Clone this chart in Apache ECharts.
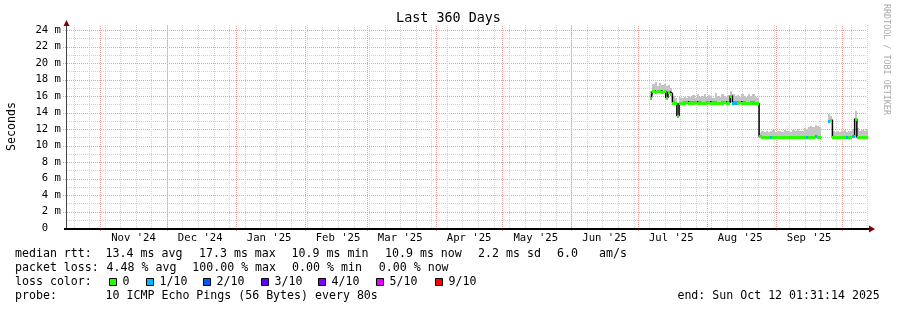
<!DOCTYPE html>
<html><head><meta charset="utf-8">
<script src="https://cdn.jsdelivr.net/npm/echarts@6/dist/echarts.min.js"></script>
<style>html,body{margin:0;padding:0;background:#fff;}#c{width:897px;height:310px;}</style>
</head><body><div id="c"></div>
<script>
// ---------- data ----------
const DAY = 86400000;
const START = Date.UTC(2024, 9, 17, 1, 31, 14);
const END = Date.UTC(2025, 9, 12, 1, 31, 14);
const FIRST_SAMPLE = '2025-07-07';           // daily samples start here
const FIRST_SUNDAY = '2024-10-20';           // weekly minor grid

const monthStarts = ['2024-11-01','2024-12-01','2025-01-01','2025-02-01','2025-03-01','2025-04-01',
  '2025-05-01','2025-06-01','2025-07-01','2025-08-01','2025-09-01','2025-10-01'];
const monthLabelDates = ['2024-11-16','2024-12-16','2025-01-16','2025-02-16','2025-03-16','2025-04-16',
  '2025-05-16','2025-06-16','2025-07-16','2025-08-16','2025-09-16'];
const monthLabels = ["Nov '24","Dec '24","Jan '25","Feb '25","Mar '25","Apr '25","May '25","Jun '25","Jul '25","Aug '25","Sep '25"];

const yTickValues = [0,2,4,6,8,10,12,14,16,18,20,22,24];

// median rtt (ms), one per day
const medianMs = [
  15.7,16.6,16.5,16.6,16.6,16.5,16.6,15.8,16.5,16.3,
  15.2,15.1,13.6,15.1,15.2,15.2,15.3,15.2,15.2,15.2,
  15.3,15.2,15.2,15.1,15.2,15.2,15.3,15.2,15.2,15.2,
  15.1,15.2,15.2,15.3,15.2,15.2,16.0,15.2,15.2,15.2,
  15.3,15.2,15.2,15.1,15.2,15.2,15.2,15.1,15.1,11.1,
  11.0,11.0,11.0,11.0,11.0,11.0,11.0,11.0,11.0,11.0,
  11.0,11.0,11.0,11.0,11.0,11.0,11.0,11.0,11.0,11.0,
  11.0,11.0,11.0,11.0,11.1,11.0,11.0,null,null,null,
  13.0,13.1,11.0,11.0,11.0,11.0,11.0,11.0,11.0,11.0,
  11.0,11.1,13.2,11.0,11.0,11.0,11.0,11.0
];
// top of the smoke (max ping, ms)
const smokeMaxMs = [
  16.6,17.5,17.7,17.2,17.6,17.3,17.5,17.2,17.3,17.0,
  16.0,15.8,15.2,15.9,15.8,15.9,15.7,16.0,15.9,16.1,
  15.8,16.2,15.9,16.0,16.3,15.9,16.1,16.0,15.8,16.4,
  16.0,15.9,16.2,16.0,15.9,16.1,16.6,16.2,16.0,16.1,
  15.9,16.3,16.0,15.9,16.2,16.0,16.3,15.9,15.8,11.5,
  11.7,11.6,11.8,11.6,11.7,11.9,11.6,11.7,11.8,11.6,
  11.9,11.7,11.8,11.6,11.9,11.7,12.0,11.8,11.7,12.1,
  12.0,12.2,12.4,12.3,12.5,12.4,12.3,null,null,null,
  13.8,13.6,11.7,11.6,11.8,11.6,11.7,11.9,11.6,11.8,
  11.7,12.0,14.2,12.1,11.8,11.9,11.7,12.0
];
// lost pings out of 10
const lossCount = [
  0,0,0,0,0,0,0,0,0,0, 0,0,0,0,0,0,0,0,0,0, 0,0,0,0,0,0,0,0,0,0,
  0,0,0,0,0,0,0,1,1,0, 0,0,0,0,0,0,0,0,0,0, 0,0,0,0,1,0,0,0,0,0,
  0,0,0,0,0,0,0,0,0,0, 1,0,0,0,1,0,0,0,0,0, 1,0,0,0,0,0,0,0,1,0,
  0,1,0,0,0,0,0,0
];

const lossLevels = [0,1,2,3,4,5,9];
const lossColorLabels = ['0','1/10','2/10','3/10','4/10','5/10','9/10'];
const lossColors = ['#26ff00','#00b8ff','#0059ff','#5e00ff','#7e00ff','#dd00ff','#ff0000'];

const rttStats = ['13.4 ms avg','17.3 ms max','10.9 ms min','10.9 ms now','2.2 ms sd','6.0   am/s'];
const lossStats = ['4.48 % avg','100.00 % max','0.00 % min','0.00 % now'];
const probeText = '10 ICMP Echo Pings (56 Bytes) every 80s';
const endText = 'end: Sun Oct 12 01:31:14 2025';
const titleText = 'Last 360 Days';
const yName = 'Seconds';
const watermark = 'RRDTOOL / TOBI OETIKER';

// ---------- derived ----------
const t0 = Date.parse(FIRST_SAMPLE);
const times = medianMs.map((_, i) => t0 + i * DAY);
const weekLines = [];
for (let t = Date.parse(FIRST_SUNDAY); t <= END; t += 7 * DAY) weekLines.push(t);
const monthLines = monthStarts.map(d => Date.parse(d));
const labelTimes = monthLabelDates.map(d => Date.parse(d));

const MONO = 'DejaVu Sans Mono';
const colorFor = n => lossColors[Math.max(0, lossLevels.indexOf(n))];
const MINOR = '#d2d2d2', MAJOR = '#f0a0a0';

const chart = echarts.init(document.getElementById('c'), null, {renderer: 'canvas'});

function vLine(params, api) {
  const t = api.value(0), major = api.value(1) === 1;
  const p0 = api.coord([t, 0]);
  const p1 = api.coord([t, 24]);
  const x = Math.round(p0[0]) + 0.5;
  return {
    type: 'line',
    shape: {x1: x, y1: Math.round(p0[1]) + (major ? 3 : 0), x2: x, y2: Math.round(p1[1]) - 5},
    style: {stroke: major ? MAJOR : MINOR, lineWidth: 1, lineDash: [1, 1]},
    silent: true
  };
}
function hLine(params, api) {
  const v = api.value(0), major = api.value(1) === 1;
  const a = api.coord([START, v]), b = api.coord([END, v]);
  const y = Math.round(a[1]) + 0.5;
  return {
    type: 'line',
    shape: {x1: Math.round(a[0]) - (major ? 4 : 0), y1: y, x2: Math.round(b[0]), y2: y},
    style: {stroke: major ? MAJOR : MINOR, lineWidth: 1, lineDash: [1, 1]},
    silent: true
  };
}

function frame(params, api) {
  const o = api.coord([START, 0]);
  const e = api.coord([END, 0]);
  const top = api.coord([START, 24]);
  const x0 = Math.round(o[0]), y0 = Math.round(o[1]), xe = Math.round(e[0]), yt = Math.round(top[1]);
  return {
    type: 'group',
    children: [
      {type: 'line', shape: {x1: x0 - 0.5, y1: y0 + 2, x2: x0 - 0.5, y2: yt - 5}, style: {stroke: '#444', lineWidth: 1}},
      {type: 'rect', shape: {x: x0 - 3, y: y0, width: xe - x0 + 5, height: 2}, style: {fill: '#000'}},
      {type: 'polygon', shape: {points: [[xe + 2, y0 - 2.5], [xe + 8, y0 + 1], [xe + 2, y0 + 4.5]]}, style: {fill: '#7f0000'}},
      {type: 'polygon', shape: {points: [[x0 - 3.5, yt - 4], [x0 - 0.5, yt - 10], [x0 + 2.5, yt - 4]]}, style: {fill: '#7f0000'}}
    ]
  };
}

function smoke(params, api) {
  const t = api.value(0), m = api.value(1), hi = api.value(2);
  const a = api.coord([t - DAY / 2, hi]), b = api.coord([t + DAY / 2, m]);
  const xa = Math.round(a[0]), xb = Math.round(b[0]);
  const ya = Math.round(a[1]), yb = Math.round(b[1]);
  return {type: 'rect', shape: {x: xa, y: ya, width: xb - xa, height: yb - ya}, style: {fill: '#c4c4c4'}};
}

function band(params, api) {
  const t = api.value(0), m = api.value(1), n = api.value(2);
  const a = api.coord([t - DAY / 2, m]), b = api.coord([t + DAY / 2, m]);
  const xa = Math.round(a[0]), xb = Math.round(b[0]);
  return {
    type: 'rect',
    shape: {x: xa, y: Math.round(a[1]) - 1, width: xb - xa, height: 3},
    style: {fill: colorFor(n)}
  };
}

const medianPts = times.map((t, i) => [t, medianMs[i]]);
const smokePts = times.map((t, i) => [t, medianMs[i], smokeMaxMs[i]]).filter(p => p[1] != null);
const bandPts = times.map((t, i) => [t, medianMs[i], lossCount[i]]).filter(p => p[1] != null);
const hLines = [];
for (let v = 1; v <= 24; v++) hLines.push([v, v % 2 === 0 ? 1 : 0]);

const graphics = [];
function txt(x, y, s, opt) {
  graphics.push(Object.assign({
    type: 'text', x: x, y: y, silent: true,
    style: Object.assign({text: s, font: '11.6px "' + MONO + '"', fill: '#000', textAlign: 'left', textVerticalAlign: 'middle'}, opt || {})
  }));
}
txt(448.5, 19, titleText, {font: '13.4px "' + MONO + '"', textAlign: 'center'});
graphics.push({type: 'text', x: 11.5, y: 126.5, rotation: Math.PI / 2, silent: true,
  style: {text: yName, font: '11.6px "' + MONO + '"', fill: '#000', textAlign: 'center', textVerticalAlign: 'middle'}});
graphics.push({type: 'text', x: 886, y: 4, rotation: -Math.PI / 2, silent: true,
  style: {text: watermark, font: '8.4px "' + MONO + '"', fill: '#aaaaaa', textAlign: 'left', textVerticalAlign: 'middle'}});

const rowY = [254, 268, 282, 296];
const rttX = [105.6, 199, 291.6, 385, 478.1, 557.1];
const lossX = [106.6, 192.3, 292.1, 378.8];
const boxX = [109, 146, 203, 261, 318, 376, 435];
txt(15, rowY[0], 'median rtt:');
rttStats.forEach((s, i) => txt(rttX[i], rowY[0], s));
txt(15, rowY[1], 'packet loss:');
lossStats.forEach((s, i) => txt(lossX[i], rowY[1], s));
txt(15, rowY[2], 'loss color:');
lossColorLabels.forEach((s, i) => {
  graphics.push({type: 'rect', silent: true, shape: {x: boxX[i] + 0.5, y: rowY[2] - 3.5, width: 7, height: 7},
    style: {fill: lossColors[i], stroke: '#000', lineWidth: 1}});
  txt(boxX[i] + 13.6, rowY[2], s);
});
txt(15, rowY[3], 'probe:');
txt(105.6, rowY[3], probeText);
txt(677.4, rowY[3], endText);

chart.setOption({
  animation: false,
  backgroundColor: '#ffffff',
  textStyle: {fontFamily: MONO},
  grid: {left: 67, right: 30, top: 30, bottom: 82, containLabel: false, outerBoundsMode: 'none'},
  xAxis: {
    type: 'value', min: START, max: END,
    axisLine: {show: false}, axisTick: {show: false}, splitLine: {show: false},
    axisLabel: {
      customValues: labelTimes,
      formatter: v => { const k = labelTimes.indexOf(v); return k >= 0 ? monthLabels[k] : ''; },
      fontFamily: MONO, fontSize: 10.6, color: '#000', margin: 5
    }
  },
  yAxis: {
    type: 'value', min: 0, max: 24, interval: 2,
    axisLine: {show: false}, axisTick: {show: false},
    axisLabel: {
      customValues: yTickValues,
      formatter: v => v === 0 ? '0  ' : v + ' m',
      fontFamily: MONO, fontSize: 10.6, color: '#000', margin: 6
    },
    splitLine: {show: false}
  },
  graphic: graphics,
  series: [
    {type: 'custom', name: 'hgrid', data: hLines, renderItem: hLine, z: 0, silent: true},
    {type: 'custom', name: 'minor', data: weekLines.map(t => [t, 0]), renderItem: vLine, z: 0, silent: true},
    {type: 'custom', name: 'major', data: monthLines.map(t => [t, 1]), renderItem: vLine, z: 1, silent: true},
    {type: 'custom', name: 'smoke', data: smokePts, renderItem: smoke, z: 2, silent: true},
    {type: 'line', name: 'median', step: 'middle', data: medianPts, showSymbol: false, connectNulls: false,
      lineStyle: {color: '#000', width: 1.5}, z: 3, silent: true},
    {type: 'custom', name: 'loss', data: bandPts, renderItem: band, z: 4, silent: true},
    {type: 'custom', name: 'frame', data: [[START, 0]], renderItem: frame, z: 5, silent: true}
  ]
});
</script>
</body></html>
